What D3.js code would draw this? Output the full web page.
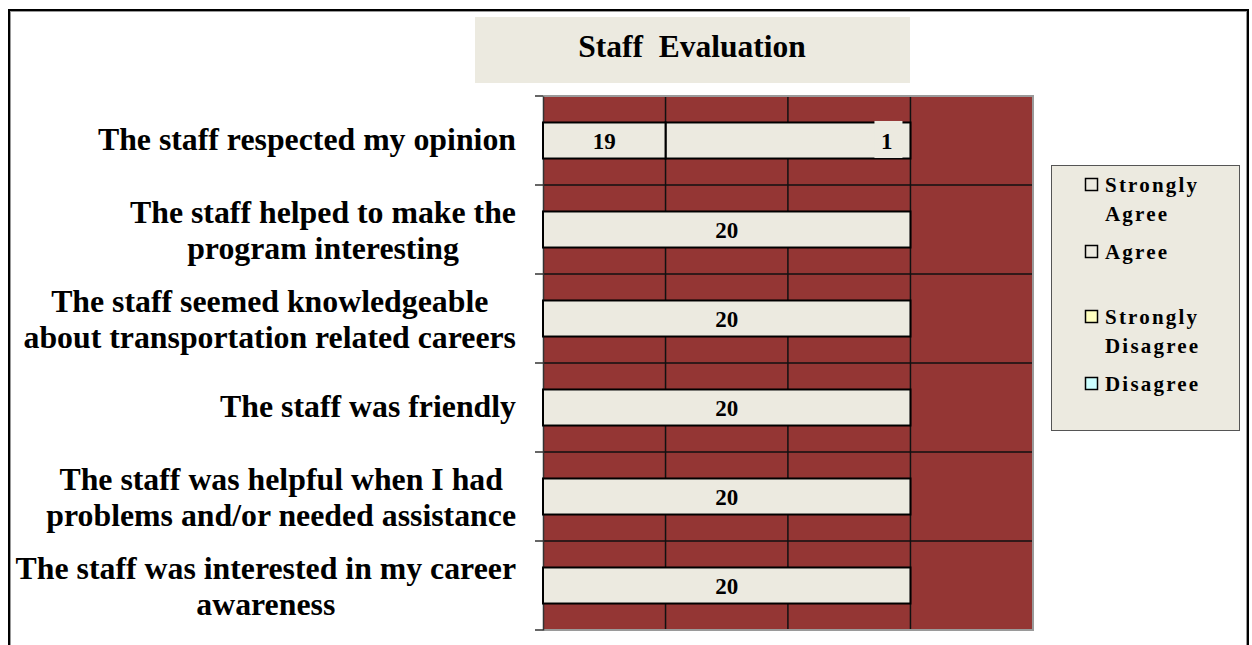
<!DOCTYPE html>
<html>
<head>
<meta charset="utf-8">
<script src="https://cdn.jsdelivr.net/npm/d3@7"></script>
<style>
  body { margin: 0; background: #fff; }
  text { font-family: "Liberation Serif", "Times New Roman", serif; font-weight: bold; fill: #000; }
</style>
</head>
<body>
<div id="plot"></div>
<script>
// data

const categories = [
  ["The staff respected my opinion"],
  ["The staff helped to make the", "program interesting"],
  ["The staff seemed knowledgeable", "about transportation related careers"],
  ["The staff was friendly"],
  ["The staff was helpful when I had", "problems and/or needed assistance"],
  ["The staff was interested in my career", "awareness"]
];

// counts shown as labels
const stronglyAgree = [19, 20, 20, 20, 20, 20];
const agree = [1, 0, 0, 0, 0, 0];
const stronglyDisagree = [0, 0, 0, 0, 0, 0];
const disagree = [0, 0, 0, 0, 0, 0];

// bar lengths as they are drawn (top row isn't drawn to scale in the original)
const stronglyAgreeBar = [6.67, 20, 20, 20, 20, 20];
const agreeBar = [13.33, 0, 0, 0, 0, 0];

const gridValues = [0, 6.67, 13.33, 20, 26.67];

const legendNames = [["Strongly", "Agree"], ["Agree"], ["Strongly", "Disagree"], ["Disagree"]];
const legendColors = ["#ECEAE0", "#ECEAE0", "#FFFFC0", "#CCFFFF"];

const w = 1252;
const h = 645;
const plot = {left: 543, right: 1033, top: 96, bottom: 630};

const svg = d3.select("#plot")
  .append("svg")
    .attr("width", w)
    .attr("height", h);

// outer frame
svg.append("rect")
    .attr("x", 9).attr("y", 10)
    .attr("width", 1239).attr("height", 660)
    .attr("fill", "#fff")
    .attr("stroke", "#000")
    .attr("stroke-width", 2);
svg.append("rect")
    .attr("x", 10.5).attr("y", 11.5)
    .attr("width", 1236).attr("height", 660)
    .attr("fill", "none")
    .attr("stroke", "#999")
    .attr("stroke-width", 1);

// title
svg.append("rect")
    .attr("x", 475).attr("y", 17)
    .attr("width", 435).attr("height", 66)
    .attr("fill", "#ECEAE0");
svg.append("text")
    .attr("x", 692).attr("y", 57)
    .attr("text-anchor", "middle")
    .style("font-size", "31.5px")
    .style("white-space", "pre")
    .text("Staff  Evaluation");

const xScale = d3.scaleLinear()
    .domain([0, 26.67])
    .range([plot.left, plot.right]);

const yScale = d3.scaleBand()
    .domain(d3.range(categories.length))
    .range([plot.top, plot.bottom])
    .padding(0);

const barH = yScale.bandwidth() * 0.405;

// plot area
svg.append("rect")
    .attr("x", plot.left).attr("y", plot.top)
    .attr("width", plot.right - plot.left)
    .attr("height", plot.bottom - plot.top)
    .attr("fill", "#943634");

// vertical grid
svg.append("g")
  .selectAll("line")
  .data(gridValues.slice(1, -1))
  .join("line")
    .attr("x1", d => xScale(d)).attr("x2", d => xScale(d))
    .attr("y1", plot.top).attr("y2", plot.bottom)
    .attr("stroke", "#111")
    .attr("stroke-width", 1.5);

// horizontal lines between categories
const bounds = d3.range(1, categories.length).map(i => yScale(i));
svg.append("g")
  .selectAll("line")
  .data(bounds)
  .join("line")
    .attr("x1", plot.left).attr("x2", plot.right)
    .attr("y1", d => d).attr("y2", d => d)
    .attr("stroke", "#111")
    .attr("stroke-width", 1.5);

// plot border (gray shadow right/bottom/top)
svg.append("path")
    .attr("d", `M${plot.left},${plot.top}H${plot.right}V${plot.bottom}H${plot.left}`)
    .attr("fill", "none")
    .attr("stroke", "#9a9a9a")
    .attr("stroke-width", 2);

// y axis
const yAxis = d3.axisLeft(yScale)
    .tickValues([])
    .tickSizeOuter(0);
svg.append("g")
    .attr("transform", `translate(${plot.left},0)`)
    .call(yAxis)
    .call(g => g.select(".domain").attr("stroke", "#333").attr("stroke-width", 1.5));
svg.append("g")
  .selectAll("line")
  .data([plot.top, ...bounds, plot.bottom])
  .join("line")
    .attr("x1", plot.left - 8).attr("x2", plot.left)
    .attr("y1", d => d).attr("y2", d => d)
    .attr("stroke", "#333")
    .attr("stroke-width", 1.5);

// bars
const rows = categories.map((c, i) => ({
  i: i,
  sa: stronglyAgreeBar[i], ag: agreeBar[i],
  saN: stronglyAgree[i], agN: agree[i]
}));

const barY = d => yScale(d.i) + (yScale.bandwidth() - barH) / 2;

svg.append("g")
  .selectAll("rect")
  .data(rows.filter(d => d.ag > 0))
  .join("rect")
    .attr("x", d => xScale(d.sa))
    .attr("y", barY)
    .attr("width", d => xScale(d.sa + d.ag) - xScale(d.sa))
    .attr("height", barH)
    .attr("fill", legendColors[1])
    .attr("stroke", "#000")
    .attr("stroke-width", 2);

svg.append("g")
  .selectAll("rect")
  .data(rows)
  .join("rect")
    .attr("x", xScale(0))
    .attr("y", barY)
    .attr("width", d => xScale(d.sa) - xScale(0))
    .attr("height", barH)
    .attr("fill", legendColors[0])
    .attr("stroke", "#000")
    .attr("stroke-width", 2);

// data labels
svg.append("g")
  .selectAll("text")
  .data(rows)
  .join("text")
    .attr("x", d => (xScale(0) + xScale(d.sa)) / 2)
    .attr("y", d => yScale(d.i) + yScale.bandwidth() / 2 + 8)
    .attr("text-anchor", "middle")
    .style("font-size", "23px")
    .text(d => d.saN);

const agLabels = svg.append("g")
  .selectAll("g")
  .data(rows.filter(d => d.agN > 0))
  .join("g");
agLabels.append("rect")
    .attr("x", d => xScale(d.sa + d.ag) - 36)
    .attr("y", d => barY(d) - 1.5)
    .attr("width", 28)
    .attr("height", barH + 1)
    .attr("fill", legendColors[1]);
agLabels.append("text")
    .attr("x", d => xScale(d.sa + d.ag) - 18)
    .attr("y", d => yScale(d.i) + yScale.bandwidth() / 2 + 8)
    .attr("text-anchor", "end")
    .style("font-size", "23px")
    .text(d => d.agN);

// category labels
const catG = svg.append("g")
  .selectAll("text")
  .data(categories)
  .join("text")
    .style("font-size", "31.8px")
    .attr("text-anchor", "middle");

catG.each(function(lines, i) {
  const t = d3.select(this);
  const cy = yScale(i) + yScale.bandwidth() / 2;
  const y0 = lines.length === 1 ? cy + 9 : cy - 7;
  lines.forEach((ln, k) => {
    t.append("tspan")
      .attr("y", y0 + k * 36.5)
      .text(ln);
  });
  // right-align the block at x=516, lines centered within it
  const widths = [];
  t.selectAll("tspan").each(function() { widths.push(this.getComputedTextLength()); });
  const maxW = d3.max(widths);
  t.selectAll("tspan").attr("x", 516 - maxW / 2);
});

// legend
svg.append("rect")
    .attr("x", 1051.5).attr("y", 165.5)
    .attr("width", 188).attr("height", 265)
    .attr("fill", "#ECEAE0")
    .attr("stroke", "#555")
    .attr("stroke-width", 1);

const legendY = [178, 245, 310, 377];
const leg = svg.append("g")
  .selectAll("g")
  .data(legendNames)
  .join("g")
    .attr("transform", (d, i) => `translate(1085,${legendY[i]})`);
leg.append("rect")
    .attr("x", 0.5).attr("y", 0.5)
    .attr("width", 12).attr("height", 12)
    .attr("fill", (d, i) => legendColors[i])
    .attr("stroke", "#000")
    .attr("stroke-width", 1.5);
leg.append("text")
    .style("font-size", "21px")
    .style("letter-spacing", "2.2px")
  .selectAll("tspan")
  .data(d => d)
  .join("tspan")
    .attr("x", 20)
    .attr("y", (d, k) => 14 + k * 29)
    .text(d => d);
</script>
</body>
</html>
